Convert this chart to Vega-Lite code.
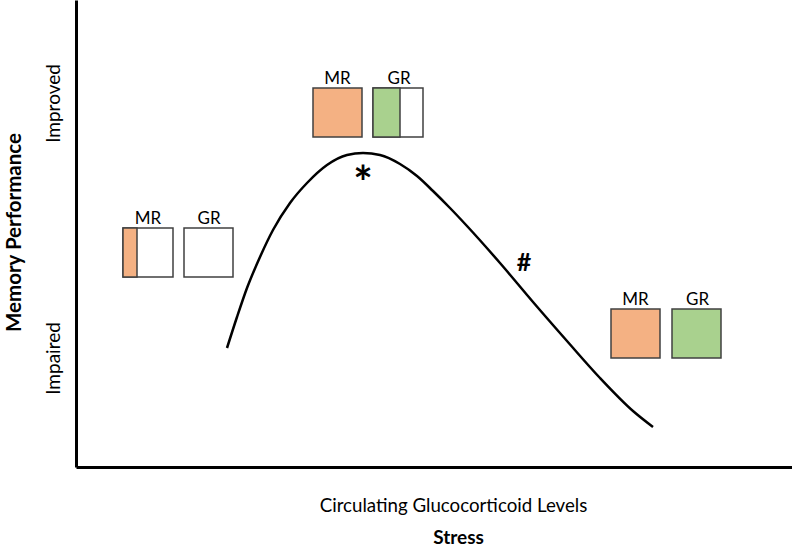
{
  "$schema": "https://vega.github.io/schema/vega-lite/v6.json",
  "width": 716,
  "height": 467,
  "autosize": {"type": "none"},
  "padding": {"left": 76, "top": 0, "right": 0, "bottom": 80},
  "background": "white",
  "config": {"view": {"stroke": null}, "font": "Lato"},
  "datasets": {
    "curve": [
      {"stress": 151, "perf": 119},
      {"stress": 161, "perf": 150},
      {"stress": 171, "perf": 179},
      {"stress": 184, "perf": 210},
      {"stress": 197, "perf": 237},
      {"stress": 214, "perf": 264},
      {"stress": 231, "perf": 284},
      {"stress": 251, "perf": 302},
      {"stress": 271, "perf": 312},
      {"stress": 287, "perf": 314},
      {"stress": 304, "perf": 312},
      {"stress": 324, "perf": 303},
      {"stress": 341, "perf": 291},
      {"stress": 357, "perf": 276},
      {"stress": 374, "perf": 259},
      {"stress": 391, "perf": 241},
      {"stress": 424, "perf": 204},
      {"stress": 457, "perf": 165},
      {"stress": 491, "perf": 126},
      {"stress": 524, "perf": 89},
      {"stress": 557, "perf": 56},
      {"stress": 577, "perf": 40}
    ],
    "boxes": [
      {"x1": 47, "x2": 97, "y1": 190, "y2": 239, "fillc": "white", "order": 1},
      {"x1": 47, "x2": 61, "y1": 190, "y2": 239, "fillc": "MR", "order": 2},
      {"x1": 108, "x2": 157, "y1": 190, "y2": 239, "fillc": "white", "order": 1},
      {"x1": 237, "x2": 286, "y1": 330, "y2": 379, "fillc": "MR", "order": 1},
      {"x1": 297, "x2": 347, "y1": 330, "y2": 379, "fillc": "white", "order": 1},
      {"x1": 297, "x2": 324, "y1": 330, "y2": 379, "fillc": "GR", "order": 2},
      {"x1": 535, "x2": 584, "y1": 109, "y2": 158, "fillc": "MR", "order": 1},
      {"x1": 596, "x2": 645, "y1": 109, "y2": 158, "fillc": "GR", "order": 1}
    ],
    "labels": [
      {"x": 72, "y": 243, "text": "MR"},
      {"x": 133, "y": 243, "text": "GR"},
      {"x": 261.5, "y": 383, "text": "MR"},
      {"x": 323, "y": 383, "text": "GR"},
      {"x": 559.5, "y": 162, "text": "MR"},
      {"x": 621.5, "y": 162, "text": "GR"}
    ],
    "marks": [
      {"x": 287, "y": 282, "text": "*", "size": 46},
      {"x": 448, "y": 204, "text": "#", "size": 25}
    ]
  },
  "layer": [
    {
      "data": {"name": "curve"},
      "mark": {"type": "line", "color": "black", "strokeWidth": 2.5, "interpolate": "monotone"},
      "encoding": {
        "x": {
          "field": "stress", "type": "quantitative",
          "scale": {"domain": [0, 716], "nice": false, "zero": false},
          "axis": {
            "values": [377],
            "labelExpr": "'Circulating Glucocorticoid Levels'",
            "labelLimit": 0,
            "ticks": false, "grid": false,
            "domainColor": "black", "domainWidth": 3,
            "labelFontSize": 18.7, "labelColor": "black", "labelPadding": 29,
            "labelFont": "Lato",
            "title": "Stress", "titleFontSize": 19, "titleFontWeight": "bold",
            "titleColor": "black", "titleX": 382, "titleY": 70,
            "titleAlign": "center", "titleBaseline": "middle", "titleFont": "Lato"
          }
        },
        "y": {
          "field": "perf", "type": "quantitative",
          "scale": {"domain": [0, 467], "nice": false, "zero": false},
          "axis": {
            "values": [109, 364],
            "labelExpr": "datum.value > 200 ? 'Improved' : 'Impaired'",
            "labelLimit": 0,
            "ticks": false, "grid": false,
            "domainColor": "black", "domainWidth": 3,
            "labelFontSize": 19, "labelColor": "black", "labelPadding": 13,
            "labelAngle": 270, "labelAlign": "center", "labelBaseline": "bottom",
            "labelFont": "Lato",
            "title": "Memory Performance", "titleFontSize": 20.5, "titleFontWeight": "bold",
            "titleColor": "black", "titleAngle": 270, "titleX": -62, "titleY": 232,
            "titleAlign": "center", "titleBaseline": "middle", "titleFont": "Lato",
            "titleLimit": 0
          }
        }
      }
    },
    {
      "data": {"name": "boxes"},
      "mark": {"type": "rect", "stroke": "#404040", "strokeWidth": 1.5},
      "encoding": {
        "x": {"field": "x1", "type": "quantitative"},
        "x2": {"field": "x2"},
        "y": {"field": "y1", "type": "quantitative"},
        "y2": {"field": "y2"},
        "order": {"field": "order"},
        "fill": {
          "field": "fillc", "type": "nominal",
          "scale": {"domain": ["white", "MR", "GR"], "range": ["#FFFFFF", "#F4B183", "#A9D18E"]},
          "legend": null
        }
      }
    },
    {
      "data": {"name": "labels"},
      "mark": {"type": "text", "fontSize": 17, "baseline": "alphabetic", "align": "center", "color": "black", "font": "Lato"},
      "encoding": {
        "x": {"field": "x", "type": "quantitative"},
        "y": {"field": "y", "type": "quantitative"},
        "text": {"field": "text"}
      }
    },
    {
      "data": {"name": "marks"},
      "mark": {"type": "text", "baseline": "middle", "align": "center", "color": "black", "fontWeight": "bold", "font": "Lato"},
      "encoding": {
        "x": {"field": "x", "type": "quantitative"},
        "y": {"field": "y", "type": "quantitative"},
        "text": {"field": "text"},
        "size": {"field": "size", "type": "quantitative", "scale": null}
      }
    }
  ]
}
